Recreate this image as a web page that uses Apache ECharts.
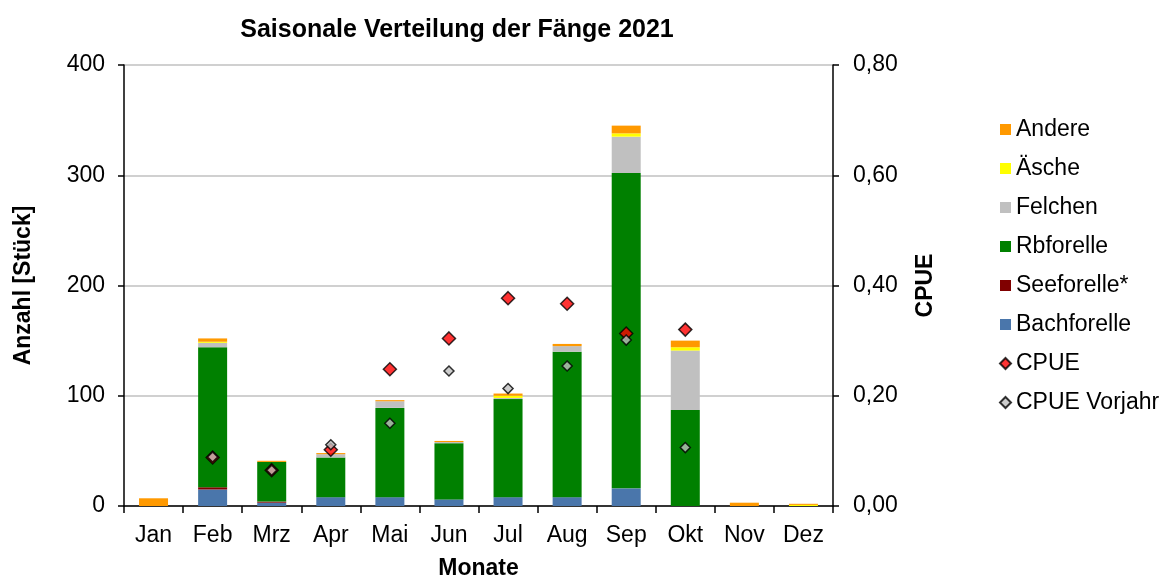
<!DOCTYPE html>
<html>
<head>
<meta charset="utf-8">
<script src="https://cdn.jsdelivr.net/npm/echarts@6/dist/echarts.min.js"></script>
<style>
  html, body { margin: 0; padding: 0; background: #fff; }
  #chart { width: 1159px; height: 576px; }
</style>
</head>
<body>
<div id="chart"></div>
<script>
// Monate
const months = ["Jan", "Feb", "Mrz", "Apr", "Mai", "Jun", "Jul", "Aug", "Sep", "Okt", "Nov", "Dez"];

// Fänge je Art (Stück), gestapelt von unten nach oben
const bachforelle = [0, 15, 3, 8, 8, 6, 8, 8, 16, 0, 0, 0];
const seeforelle  = [0, 2, 1, 0, 0, 0, 0, 0, 0, 0, 0, 0];
const rbforelle   = [0, 127, 36, 36, 81, 51, 89, 132, 286, 87, 0, 0];
const felchen     = [0, 4, 0, 3, 6, 1, 1, 5, 33, 54, 0, 0];
const aesche      = [0, 1, 0, 0, 0, 0, 2, 0, 3, 3, 0, 1];
const andere      = [7, 3, 1, 1, 1, 1, 2, 2, 7, 6, 3, 1];

// CPUE (rechte Achse)
const cpue        = [null, 0.088, 0.065, 0.102, 0.248, 0.304, 0.377, 0.367, 0.313, 0.320, null, null];
const cpueVorjahr = [null, 0.089, 0.065, 0.111, 0.150, 0.245, 0.213, 0.254, 0.301, 0.106, null, null];

const leftTicks = [0, 100, 200, 300, 400];
const rightTicks = [0, 0.2, 0.4, 0.6, 0.8];

const font = "Liberation Sans, Arial, sans-serif";
const fs = 23;

const barSeries = (name, data, color) => ({
  name: name,
  type: "bar",
  stack: "faenge",
  barWidth: 29,
  data: data,
  itemStyle: { color: color },
  emphasis: { disabled: true }
});

const option = {
  animation: false,
  backgroundColor: "#fff",
  textStyle: { fontFamily: font, color: "#000" },
  title: {
    text: "Saisonale Verteilung der Fänge 2021",
    left: 452,
    top: 13,
    textAlign: "center",
    textStyle: { fontFamily: font, fontSize: 25, fontWeight: "bold", color: "#000" }
  },
  legend: {
    orient: "vertical",
    left: 994,
    top: 113,
    itemWidth: 11,
    itemHeight: 11,
    itemGap: 16,
    textStyle: { fontFamily: font, fontSize: fs, color: "#000" },
    data: [
      { name: "Andere", icon: "rect" },
      { name: "Äsche", icon: "rect" },
      { name: "Felchen", icon: "rect" },
      { name: "Rbforelle", icon: "rect" },
      { name: "Seeforelle*", icon: "rect" },
      { name: "Bachforelle", icon: "rect" },
      { name: "CPUE", icon: "diamond" },
      { name: "CPUE Vorjahr", icon: "diamond" }
    ]
  },
  grid: { left: 124, right: 326, top: 65, bottom: 70, containLabel: false, outerBoundsMode: "none" },
  xAxis: {
    type: "category",
    data: months,
    name: "Monate",
    nameLocation: "middle",
    nameGap: 51,
    nameTextStyle: { fontFamily: font, fontSize: fs, fontWeight: "bold", color: "#000" },
    axisLine: { lineStyle: { color: "#000", width: 1.5 } },
    axisTick: { show: true, interval: 0, length: 7, lineStyle: { color: "#000", width: 1.5 } },
    axisLabel: { interval: 0, fontFamily: font, fontSize: fs, color: "#000", margin: 18 },
    splitLine: { show: false }
  },
  yAxis: [
    {
      type: "value",
      min: leftTicks[0],
      max: leftTicks[leftTicks.length - 1],
      interval: 100,
      name: "Anzahl [Stück]",
      nameLocation: "middle",
      nameGap: 89,
      nameTextStyle: { fontFamily: font, fontSize: fs, fontWeight: "bold", color: "#000" },
      axisLine: { show: true, lineStyle: { color: "#000", width: 1.5 } },
      axisTick: { show: true, length: 6, lineStyle: { color: "#000", width: 1.5 } },
      axisLabel: { fontFamily: font, fontSize: fs, color: "#000", margin: 19 },
      splitLine: { show: true, lineStyle: { color: "#c0c0c0", width: 1.5 } }
    },
    {
      type: "value",
      min: rightTicks[0],
      max: rightTicks[rightTicks.length - 1],
      interval: 0.2,
      position: "right",
      name: "CPUE",
      nameLocation: "middle",
      nameGap: 81,
      nameTextStyle: { fontFamily: font, fontSize: fs, fontWeight: "bold", color: "#000" },
      axisLine: { show: true, lineStyle: { color: "#000", width: 1.5 } },
      axisTick: { show: true, length: 6, lineStyle: { color: "#000", width: 1.5 } },
      axisLabel: {
        fontFamily: font, fontSize: fs, color: "#000", margin: 20,
        formatter: v => v.toFixed(2).replace(".", ",")
      },
      splitLine: { show: false }
    }
  ],
  series: [
    barSeries("Bachforelle", bachforelle, "#4a76ab"),
    barSeries("Seeforelle*", seeforelle, "#800000"),
    barSeries("Rbforelle", rbforelle, "#008000"),
    barSeries("Felchen", felchen, "#c0c0c0"),
    barSeries("Äsche", aesche, "#ffff00"),
    barSeries("Andere", andere, "#ff9900"),
    {
      name: "CPUE",
      type: "scatter",
      yAxisIndex: 1,
      symbol: "diamond",
      symbolSize: 13,
      data: cpue,
      itemStyle: { color: "#ff0000", borderColor: "#000", borderWidth: 1.5 },
      z: 5
    },
    {
      name: "CPUE Vorjahr",
      type: "scatter",
      yAxisIndex: 1,
      symbol: "diamond",
      symbolSize: 10,
      data: cpueVorjahr,
      itemStyle: { color: "#c0c0c0", borderColor: "#000", borderWidth: 1.5 },
      z: 6
    }
  ]
};

const myChart = echarts.init(document.getElementById("chart"));
myChart.setOption(option);
</script>
</body>
</html>
